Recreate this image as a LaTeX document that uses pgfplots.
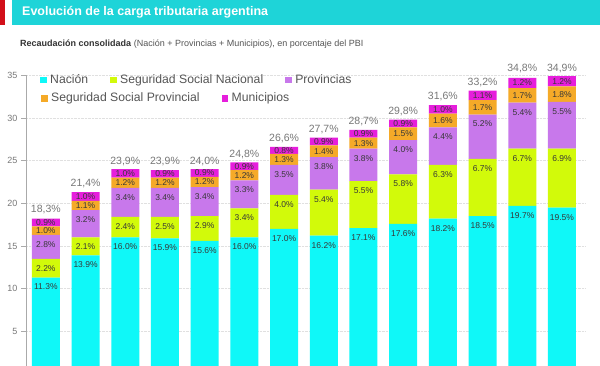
\documentclass[border=0pt]{standalone}
\usepackage{fontspec}
\setmainfont{Liberation Sans}
\usepackage{pgfplots}
\usepackage{pgfplotstable}
\pgfplotsset{compat=1.18}
\definecolor{cnac}{RGB}{15,248,248}
\definecolor{cssn}{RGB}{210,250,10}
\definecolor{cprov}{RGB}{200,120,235}
\definecolor{cssp}{RGB}{245,170,40}
\definecolor{cmun}{RGB}{230,30,220}
\definecolor{titlecyan}{RGB}{30,212,216}
\definecolor{redbar}{RGB}{210,15,25}
\definecolor{tickgray}{RGB}{120,120,120}
\definecolor{axisgray}{RGB}{170,170,170}
\definecolor{leggray}{RGB}{85,85,85}
\definecolor{seggray}{RGB}{55,55,55}

\pgfplotstableread{
x nac ssn prov ssp mun tot
0 11.3 2.2 2.8 1.0 0.9 18.3
1 13.9 2.1 3.2 1.1 1.0 21.4
2 16.0 2.4 3.4 1.2 1.0 23.9
3 15.9 2.5 3.4 1.2 0.9 23.9
4 15.6 2.9 3.4 1.2 0.9 24.0
5 16.0 3.4 3.3 1.2 0.9 24.8
6 17.0 4.0 3.5 1.3 0.8 26.6
7 16.2 5.4 3.8 1.4 0.9 27.7
8 17.1 5.5 3.8 1.3 0.9 28.7
9 17.6 5.8 4.0 1.5 0.9 29.8
10 18.2 6.3 4.4 1.6 1.0 31.6
11 18.5 6.7 5.2 1.7 1.1 33.2
12 19.7 6.7 5.4 1.7 1.2 34.8
13 19.5 6.9 5.5 1.8 1.2 34.9
}\datos

\pgfplotsset{
  segstyle/.style={
    draw=none,
    point meta=explicit,
    visualization depends on={rawy \as \h},
    nodes near coords={\pgfmathprintnumber[fixed,fixed zerofill,precision=1]{\pgfplotspointmeta}\%},
    nodes near coords style={anchor=center, yshift=\h*4.2665pt-9.5pt, inner sep=0pt, text=seggray, font=\fontsize{8.5}{9}\selectfont},
  },
  smallseg/.style={
    draw=none,
    point meta=explicit,
    nodes near coords={\pgfmathprintnumber[fixed,fixed zerofill,precision=1]{\pgfplotspointmeta}\%},
    nodes near coords style={anchor=center, inner sep=0pt, text=seggray, font=\fontsize{8.5}{9}\selectfont},
  },
  sqlegend/.style={
    legend image code/.code={\fill[##1] (0pt,-3.25pt) rectangle (6.5pt,3.25pt);},
  },
  basegeom/.style={
    at={(26pt,-9pt)}, anchor=south west,
    width=559.8pt, height=298.7pt, scale only axis,
    xmin=-0.5, xmax=13.6, ymin=0, ymax=35,
    /pgf/number format/assume math mode=true,
  },
  legrow/.style={
    sqlegend,
    legend columns=-1,
    legend style={at={#1}, anchor=west, draw=none, fill=none,
      font=\fontsize{12.2}{14}\selectfont, text=leggray, inner sep=0pt,
      nodes={inner sep=0pt},
      /tikz/every odd column/.append style={column sep=3.5pt},
      /tikz/every even column/.append style={column sep=22pt}},
  },
}

\begin{document}
\begin{tikzpicture}[x=1pt,y=1pt]
\useasboundingbox (0,0) rectangle (600,365);
\fill[white] (0,0) rectangle (600,365);
\fill[redbar] (0,340) rectangle (5,365);
\fill[titlecyan] (12,340) rectangle (600,365);
\node[anchor=west, text=white, font=\fontsize{12.5}{14}\selectfont\bfseries, inner sep=0pt] at (22,352.5) {Evolución de la carga tributaria argentina};
\node[anchor=west, inner sep=0pt, font=\fontsize{9}{11}\selectfont, text=leggray] at (20,321) {\textcolor{black!80}{\textbf{Recaudación consolidada}} (Nación + Provincias + Municipios), en porcentaje del PBI};

\begin{axis}[
  basegeom,
  clip=false,
  ybar stacked, bar width=28pt,
  axis lines*=left,
  x axis line style={draw=none},
  y axis line style={draw=axisgray},
  xtick=\empty,
  ytick={5,10,...,35},
  tick align=outside,
  major tick length=5pt,
  tick style={axisgray, thin},
  yticklabel style={font=\fontsize{9}{10}\selectfont, text=tickgray},
  ymajorgrids,
  grid style={densely dotted, black!12},
]
\addplot[fill=cnac, segstyle] table[x=x, y=nac, meta=nac] {\datos};
\addplot[fill=cssn, segstyle] table[x=x, y=ssn, meta=ssn] {\datos};
\addplot[fill=cprov, segstyle] table[x=x, y=prov, meta=prov] {\datos};
\addplot[fill=cssp, smallseg] table[x=x, y=ssp, meta=ssp] {\datos};
\addplot[fill=cmun, smallseg] table[x=x, y=mun, meta=mun] {\datos};
\end{axis}

\begin{axis}[
  basegeom,
  clip=false,
  hide axis,
  legrow={(0.025,0.9843)},
]
\addplot[forget plot, only marks, mark=none, point meta=explicit,
  nodes near coords={\pgfmathprintnumber[fixed,fixed zerofill,precision=1,use comma]{\pgfplotspointmeta}\%},
  nodes near coords style={anchor=south, yshift=3.5pt, inner sep=0pt, text=tickgray, font=\fontsize{10.5}{11}\selectfont}]
  table[x=x, y=tot, meta=tot] {\datos};
\addlegendimage{fill=cnac, draw=none}
\addlegendentry{Nación}
\addlegendimage{fill=cssn, draw=none}
\addlegendentry{Seguridad Social Nacional}
\addlegendimage{fill=cprov, draw=none}
\addlegendentry{Provincias}
\end{axis}

\begin{axis}[
  basegeom,
  hide axis,
  legrow={(0.0268,0.923)},
]
\addlegendimage{fill=cssp, draw=none}
\addlegendentry{Seguridad Social Provincial}
\addlegendimage{fill=cmun, draw=none}
\addlegendentry{Municipios}
\end{axis}
\end{tikzpicture}
\end{document}
